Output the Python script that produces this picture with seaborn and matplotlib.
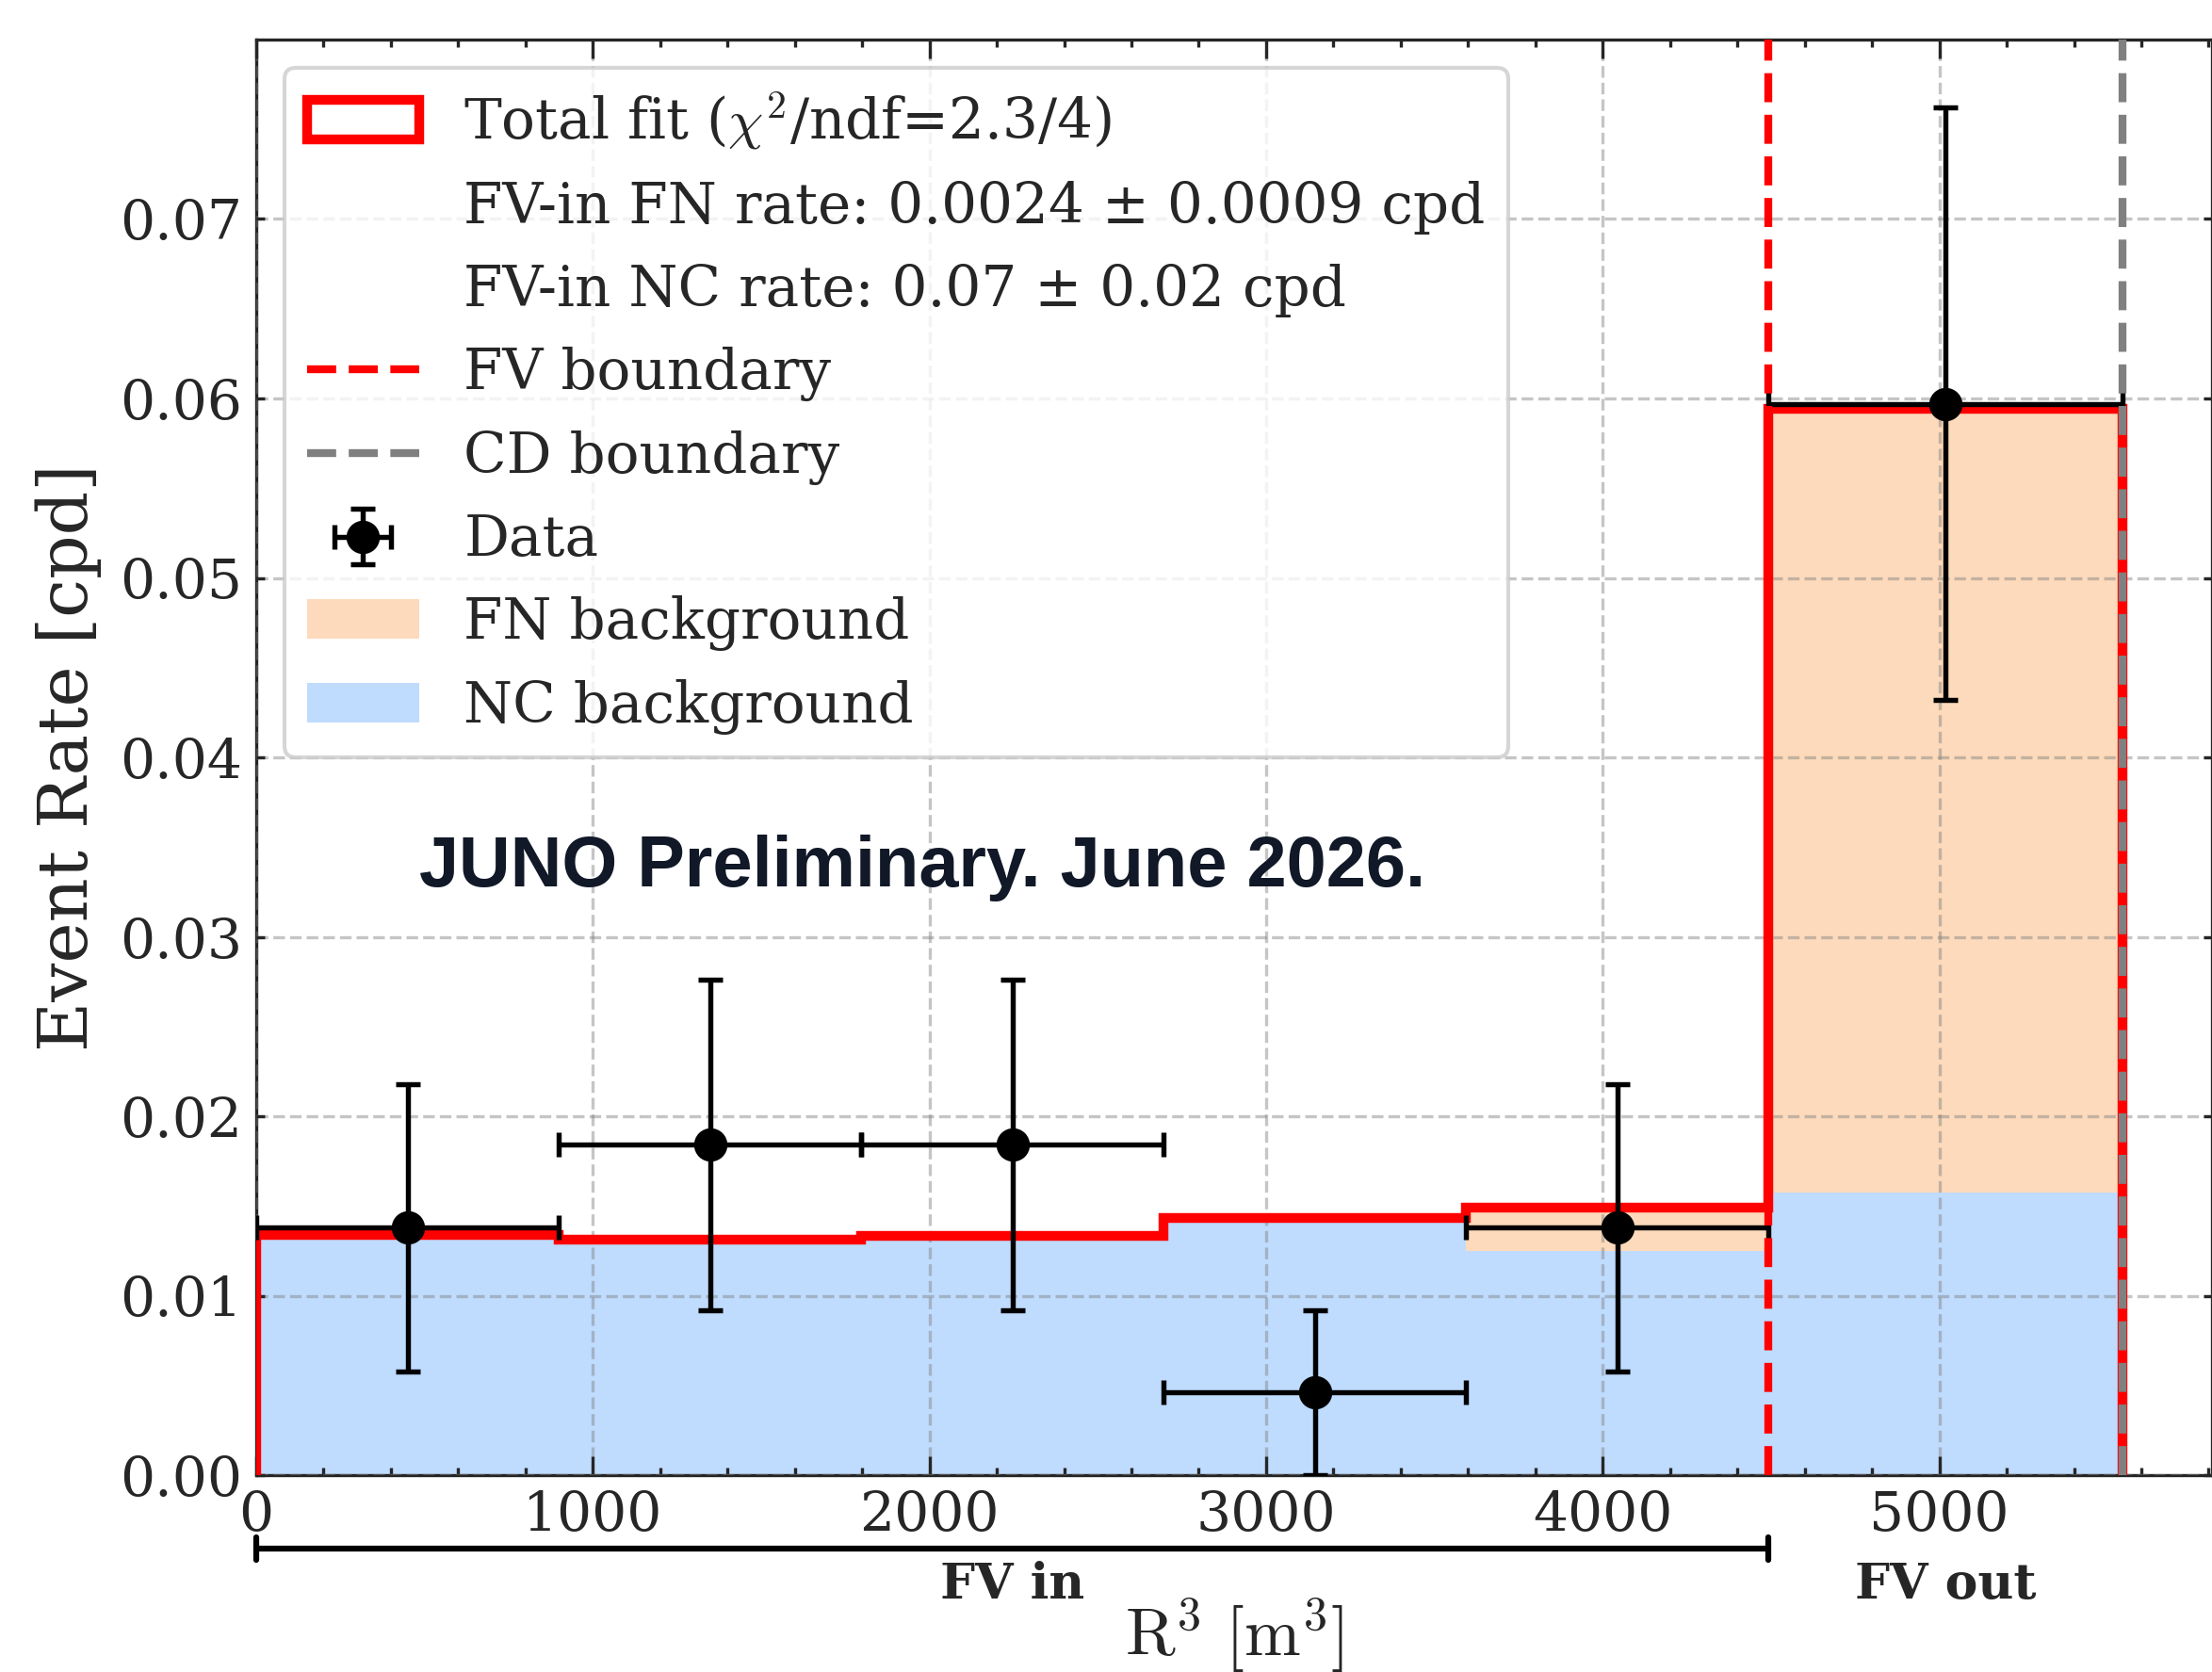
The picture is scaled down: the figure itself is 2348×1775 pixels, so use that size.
import numpy as np
import matplotlib
matplotlib.use('Agg')
import matplotlib.pyplot as plt
import seaborn as sns
from matplotlib.patches import Patch
from matplotlib.lines import Line2D
from matplotlib.ticker import MultipleLocator

# Bin edges in R^3 [m^3]: five equal bins inside the FV (R < 16.5 m), one out to the CD edge (17.7 m)
bin_edges = [0.0, 898.4, 1796.9, 2695.3, 3593.7, 4492.1, 5545.2]
fv_boundary = 4492.1
cd_boundary = 5545.2

# Fitted components per bin [cpd]
nc_rate = [0.01338, 0.01309, 0.01330, 0.01430, 0.01250, 0.01573]
fn_rate = [0.0, 0.0, 0.0, 0.0, 0.00242, 0.04370]
total_fit = [0.01340, 0.01311, 0.01332, 0.01432, 0.01492, 0.05942]

# Measured rates per bin [cpd]
data_rate = [0.0138, 0.0184, 0.0184, 0.0046, 0.0138, 0.0597]
data_err = [0.0080, 0.0092, 0.0092, 0.0046, 0.0080, 0.0165]

fit_label = r'Total fit ($\chi^2$/ndf=2.3/4)'
fn_text = 'FV-in FN rate: 0.0024 ± 0.0009 cpd'
nc_text = 'FV-in NC rate: 0.07 ± 0.02 cpd'

peach = '#fddabb'
blue = '#bfdbfe'

sns.set_style('ticks')
plt.rcParams['font.family'] = ['DejaVu Serif']
plt.rcParams['mathtext.fontset'] = 'cm'

edges = np.array(bin_edges)
centers = (edges[:-1] + edges[1:]) / 2
half_width = np.diff(edges) / 2

fig = plt.figure(figsize=(2348 / 300, 1775 / 300), dpi=300)
ax = fig.add_axes([272 / 2348, 1 - 1566 / 1775, (2348 - 272) / 2348, (1566 - 42) / 1775])

# stacked backgrounds: draw NC+FN first, then NC on top of it
sns.histplot(x=centers, weights=np.add(nc_rate, fn_rate), bins=bin_edges, element='step',
             fill=True, color=peach, alpha=1, linewidth=0, ax=ax, zorder=1)
sns.histplot(x=centers, weights=nc_rate, bins=bin_edges, element='step',
             fill=True, color=blue, alpha=1, linewidth=0, ax=ax, zorder=1.1)

ax.stairs(total_fit, bin_edges, color='red', linewidth=2.5, baseline=0, zorder=3)

data_h = ax.errorbar(centers, data_rate, xerr=half_width, yerr=data_err, fmt='o', color='black',
                     markersize=7.5, elinewidth=1.3, capsize=3.2, capthick=1.3, zorder=4)

ax.axvline(fv_boundary, color='red', ls='--', lw=2, zorder=5)
ax.axvline(cd_boundary, color='gray', ls='--', lw=2, zorder=5)

ax.set_xlim(0, 5810)
ax.set_ylim(0, 0.08)
ax.set_yticks(np.arange(0, 0.075, 0.01))
ax.xaxis.set_minor_locator(MultipleLocator(200))
ax.tick_params(which='both', direction='in', top=True, right=True, labelsize=14)
ax.tick_params(axis='x', which='major', length=4.8, width=0.8)
ax.tick_params(axis='x', which='minor', length=2, width=0.8)
ax.tick_params(axis='y', which='major', length=2.2, width=0.8)
ax.set_axisbelow(False)
ax.grid(True, ls='--', color='gray', alpha=0.45, lw=0.8)

ax.set_ylabel('Event Rate [cpd]', fontsize=17.5)
ax.yaxis.set_label_coords(-0.079, 0.5)
ax.set_xlabel(r'$\mathrm{R}^3\ [\mathrm{m}^3]$', fontsize=17.2)
ax.xaxis.set_label_coords(0.5, -0.084)

# FV in / FV out bracket under the axis
tr = ax.get_xaxis_transform()
ax.plot([0, fv_boundary], [-0.051, -0.051], color='black', lw=1.5, transform=tr, clip_on=False)
for xe in [0, fv_boundary]:
    ax.plot([xe, xe], [-0.043, -0.059], color='black', lw=1.5, transform=tr, clip_on=False)
ax.text(fv_boundary / 2, -0.0765, 'FV in', transform=tr, ha='center', va='center',
        fontsize=12.5, fontweight='bold')
ax.text((fv_boundary + cd_boundary) / 2, -0.0765, 'FV out', transform=tr, ha='center', va='center',
        fontsize=12.5, fontweight='bold')

ax.text(0.0833, 0.423, 'JUNO Preliminary. June 2026.', transform=ax.transAxes, ha='left',
        va='center', fontsize=18.2, fontweight='bold', family='Liberation Sans', color='#111827')

handles = [
    Patch(facecolor='none', edgecolor='red', linewidth=2.5),
    Patch(facecolor='none', edgecolor='none'),
    Patch(facecolor='none', edgecolor='none'),
    Line2D([], [], color='red', ls='--', lw=2),
    Line2D([], [], color='gray', ls='--', lw=2),
    data_h,
    Patch(facecolor=peach, edgecolor='none'),
    Patch(facecolor=blue, edgecolor='none'),
]
labels = [fit_label, fn_text, nc_text, 'FV boundary', 'CD boundary', 'Data',
          'FN background', 'NC background']
ax.legend(handles, labels, loc='upper left', fontsize=14.3, labelspacing=0.5, fancybox=True)

fig.savefig('out.png', dpi=300)
